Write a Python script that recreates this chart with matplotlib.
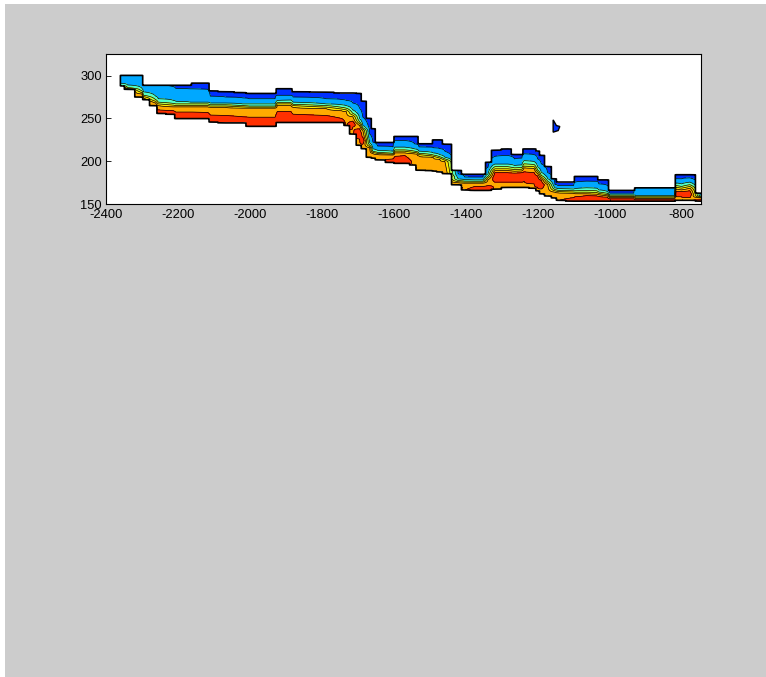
import numpy as np
import matplotlib
matplotlib.use('Agg')
import matplotlib.pyplot as plt
from matplotlib.patches import Rectangle, Polygon

plt.rcParams['axes.unicode_minus'] = False

# stations along the section (x) and elevations
dist = [-2362, -2358, -2340, -2300, -2296, -2262, -2255, -2212, -2206, -2165,
        -2160, -2117, -2110, -2068, -2020, -2002, -1930, -1924, -1886, -1880,
        -1788, -1745, -1732, -1714, -1695, -1686, -1667, -1658, -1645, -1602,
        -1597, -1570, -1542, -1535, -1530, -1495, -1490, -1472, -1458, -1421,
        -1403, -1375, -1352, -1338, -1319, -1283, -1264, -1244, -1238, -1210,
        -1200, -1190, -1172, -1152, -1144, -1100, -1096, -1064, -1036, -1030,
        -1006, -1000, -933, -928, -820, -815, -800, -777, -746]

# upper and lower edge of the coloured band
top = [294, 300, 300, 300, 288.5, 288.5, 288.5, 288.5, 288.5, 288.5,
       291, 291, 282, 281, 280, 279, 279, 284.5, 284.5, 281,
       280.5, 279.5, 279.5, 279.5, 279, 270, 250, 238, 222, 222,
       229, 229, 229, 229, 220.5, 220.5, 225, 225, 220, 189.5,
       185, 185, 185, 199, 213, 214.5, 208, 208, 214.5, 214.5,
       212, 207, 194, 179.8, 176, 176, 182.5, 182.5, 182.5, 178.7,
       178.7, 166.3, 166.3, 169.4, 169.4, 184.5, 184.5, 184.5, 163]
bottom = [295, 288, 284, 275, 272, 265, 256, 255, 250, 250,
          250, 250, 246, 245, 245, 241, 241, 245.5, 245.5, 245.5,
          245.5, 245.5, 242, 232, 219, 214.8, 205, 204, 202, 199,
          198, 198, 196, 190, 190, 189.5, 189, 188, 186, 173,
          167, 166.3, 166.3, 166.3, 168, 170, 170, 170, 170, 169,
          166, 162.4, 160, 157.7, 155, 154, 154, 154, 154, 154,
          154, 154, 154, 154, 154, 155, 155, 155, 154]

# contour interfaces (level 1 .. level 6) at each station
lev1 = [301, 301, 301, 301, 289.5, 289.5, 289.5, 287, 285, 284.5,
        284.5, 284, 276, 275, 274, 273, 273, 277, 277, 275,
        273, 272, 271, 268, 262, 251.6, 232, 222.5, 218, 217,
        224.4, 224.4, 220.5, 220, 217, 216.7, 216, 215, 212, 185.6,
        182, 181.8, 181.8, 193.4, 206, 207, 203, 204, 208.9, 208,
        203, 197.3, 187, 173.2, 172, 172.1, 176, 177.1, 177, 174,
        172, 163.2, 163.2, 170.5, 170.5, 180, 179.8, 181, 160.8]
lev2 = [291, 291, 289, 285, 281, 276, 273, 271, 270, 269,
        269, 269, 268, 268, 267, 267, 267, 271, 271.5, 269,
        267, 266, 265, 260, 250, 241.9, 222, 214.8, 213, 212,
        216.7, 216.7, 214.7, 214, 212, 210.8, 210, 208, 205, 179.8,
        179, 178.7, 178.7, 185.6, 197, 197, 195.3, 196, 201, 200,
        194, 187.6, 180, 169.4, 168.5, 168, 168.5, 169.4, 169, 167,
        165, 161.2, 161.2, 160.4, 160.4, 175, 174, 176, 159.7]
lev3 = [288.5, 288.5, 286, 282, 277, 272, 269, 267.5, 267, 267,
        267, 267, 266, 266, 265, 264.5, 264.5, 268.5, 268.5, 266.5,
        265, 263, 262, 256, 246, 239.2, 219, 211.7, 210.5, 209.5,
        213.5, 213.5, 212, 211.5, 209.5, 208.1, 207.5, 205.5, 203, 177.9,
        177.2, 177.1, 177.1, 182.9, 194, 194, 192.6, 193, 197.3, 196.5,
        190, 183.7, 177, 167.4, 166.5, 166, 166, 166.3, 166, 164.5,
        163, 160, 160, 159, 159, 172, 170.9, 173, 158.9]
lev4 = [288, 288, 285, 280, 275.5, 270, 267, 265.5, 265, 265,
        265, 265, 264.5, 264.5, 263.5, 263.2, 263.2, 267, 267, 265,
        263.2, 261, 260, 254, 244, 237.7, 217.5, 210.5, 209.3, 208.5,
        212, 212, 210.5, 210, 208, 206.5, 206, 204, 201.5, 176.5,
        176, 176, 176, 181, 191.5, 191.5, 190.7, 191, 194.6, 194,
        188, 181.8, 175, 165.9, 165, 164.5, 164.3, 164.3, 164, 162.8,
        161.5, 159.3, 159.3, 157.7, 157.7, 170, 169, 171, 158.3]
lev5 = [287.5, 287.5, 284.5, 278.5, 274, 268, 265, 263.5, 263.5, 263.5,
        263.5, 263.5, 263, 263, 262, 262, 262, 265, 265, 263,
        261.5, 259, 258, 252, 242, 236.1, 216, 209.3, 208, 207.5,
        210, 210, 208.9, 208.5, 206.5, 205, 204.5, 202.5, 200, 175.3,
        174.8, 174.8, 174.8, 179, 189.5, 189.5, 188.7, 189, 192.6, 192,
        186, 179.8, 173, 164.3, 163.5, 163, 162.5, 162.4, 162, 161.3,
        160, 158.1, 158.1, 156.9, 156.9, 168, 167, 169, 157.7]
# upper and lower edge of the red core
lev6 = [286, 286, 283, 274, 271, 264, 260, 259, 257.5, 257.5,
        257.5, 257, 254, 253.5, 252, 251.5, 251.5, 258, 258, 255,
        253.5, 250, 241, 247, 238, 228, 203, 203, 201, 203,
        206, 207, 194, 188, 188, 187.5, 187, 186, 184, 171,
        166, 170.9, 171, 172, 187, 187, 186.5, 187, 188, 187,
        183, 178, 158, 156, 154, 158, 159, 160.4, 160, 159.5,
        158.5, 156.6, 156.6, 155.5, 155.5, 165, 165.1, 166, 155.5]
lev7 = [280, 283, 279, 270, 267, 260, 251, 250, 245, 245,
        245, 245, 241, 240, 240, 236, 236, 240.5, 240.5, 240.5,
        240.5, 240.5, 237, 240, 226, 220, 198, 199, 197, 194,
        193, 193, 191, 185, 185, 184.5, 184, 183, 181, 168,
        162, 161.3, 161.3, 161.3, 176, 176, 176, 176, 177, 174,
        170, 168, 150, 150, 150, 149, 149, 149, 149, 149,
        149, 149, 149, 149, 149, 159, 159, 158, 149]

# small detached patch above the band near -1150
stray_x = [-1157, -1148, -1138.5, -1143, -1157]
stray_y = [248.4, 241.8, 240.7, 236, 234.1]

band_colors = ['#0030ff', '#00a8ff', '#50ffc8', '#b8ff48', '#ffe800', '#ffaa00', '#ff3000']

x = np.array(dist, dtype=float)
yg = np.arange(145, 330.01, 0.25)
Z = np.zeros((len(yg), len(x)))
M = np.zeros((len(yg), len(x)))
fp = [5.5, 6.0, 6.9, 6, 5, 4, 3, 2, 1, 0.1]
for j in range(len(x)):
    mid = 0.5 * (lev6[j] + lev7[j])
    xp = [lev7[j] - 30, lev7[j], mid, lev6[j], lev5[j], lev4[j], lev3[j],
          lev2[j], lev1[j], lev1[j] + 30]
    Z[:, j] = np.interp(yg, xp, fp)
    M[:, j] = ((yg <= top[j]) & (yg >= bottom[j])).astype(float)

fig = plt.figure(figsize=(7.66, 6.77), dpi=100)
fig.patch.set_facecolor('white')
fig.patches.append(Rectangle((5 / 766, 0), 1, 1 - 4 / 677, transform=fig.transFigure,
                             facecolor='#cccccc', edgecolor='none', zorder=-10))

ax = fig.add_axes([106 / 766, 1 - 204.5 / 677, 595 / 766, 150.5 / 677])
ax.set_facecolor('white')

ax.contourf(x, yg, Z, levels=[0, 1, 2, 3, 4, 5, 6, 7], colors=band_colors, zorder=1)
ax.contour(x, yg, Z, levels=[1, 2, 3, 4, 5, 6], colors='k', linewidths=0.5, zorder=2)
ax.contourf(x, yg, M, levels=[-1, 0.5], colors='white', zorder=3)
ax.contour(x, yg, M, levels=[0.5], colors='k', linewidths=1.2, zorder=4)
ax.add_patch(Polygon(np.column_stack([stray_x, stray_y]), closed=True,
                     facecolor=band_colors[0], edgecolor='k', linewidth=1, zorder=5))

ax.set_xlim(-2400, -746)
ax.set_ylim(150, 325)
ax.set_xticks(np.arange(-2400, -700, 200))
ax.set_yticks([150, 200, 250, 300])
ax.tick_params(direction='in', top=True, right=True, length=3.5, width=0.6,
               labelsize=9.3)
ax.tick_params(axis='x', pad=3.5)
ax.tick_params(axis='y', pad=3)
for lab in ax.get_xticklabels() + ax.get_yticklabels():
    lab.set_fontfamily('Liberation Sans')
for lab in ax.get_yticklabels():
    lab.set_verticalalignment('center_baseline')
for s in ax.spines.values():
    s.set_linewidth(0.8)
    s.set_zorder(6)

fig.savefig('out.png', dpi=100)
